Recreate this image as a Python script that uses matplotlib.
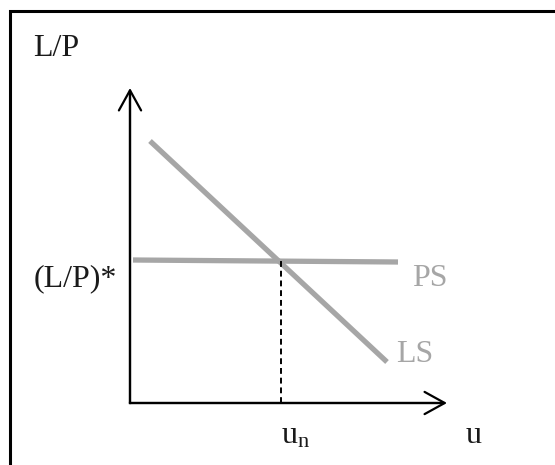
import matplotlib
matplotlib.use("Agg")
import matplotlib.pyplot as plt

plt.rcParams['font.family'] = ['Liberation Serif', 'DejaVu Serif']
plt.rcParams['mathtext.fontset'] = 'custom'
plt.rcParams['mathtext.rm'] = 'Liberation Serif'
plt.rcParams['mathtext.it'] = 'Liberation Serif'

# diagram values (origin at the corner of the two axes)
u_axis_len = 317
lp_axis_len = 315
ps_u = [3, 268]
ps_lp = [143, 141]
ls_u = [20, 257]
ls_lp = [262, 41]
u_n = 151
lp_star = 142

gray = '#a6a6a6'
txt = '#1a1a1a'

fig = plt.figure(figsize=(5.55, 4.65), dpi=100)
ax = fig.add_axes([0, 0, 1, 1])
ax.set_xlim(-130, 425)
ax.set_ylim(-62, 403)
ax.axis('off')

# frame around the figure (left and top edges visible)
ax.plot([-120, -120, 430], [-70, 392, 392], color='black', lw=2.2, solid_joinstyle='miter')

# axes with arrows
arr = dict(arrowstyle='->,head_length=14.5,head_width=8', lw=1.6, color='black',
           shrinkA=0, shrinkB=0, mutation_scale=1)
ax.annotate('', xy=(u_axis_len, 0), xytext=(0, 0), arrowprops=arr)
ax.annotate('', xy=(0, lp_axis_len), xytext=(0, 0), arrowprops=arr)
ax.plot([0, 0], [0, lp_axis_len - 5], color='black', lw=1.6)
ax.plot([0, u_axis_len - 5], [0, 0], color='black', lw=1.6)

# curves
ax.plot(ps_u, ps_lp, color=gray, lw=3.8, solid_capstyle='butt')
ax.plot(ls_u, ls_lp, color=gray, lw=3.8, solid_capstyle='butt')

# dashed line to u_n
ax.plot([u_n, u_n], [0, lp_star], color='black', lw=1.4, linestyle=(0, (3, 2)))

fs = 23
ax.text(-97, 355, 'L/P', fontsize=fs, color=txt, ha='left', va='center')
ax.text(-96, 124, '(L/P)*', fontsize=fs, color=txt, ha='left', va='center')
ax.text(282, 125, 'PS', fontsize=fs, color=gray, ha='left', va='center')
ax.text(266, 48, 'LS', fontsize=fs, color=gray, ha='left', va='center')
ax.text(u_n, -40, r'$\mathrm{u_n}$', fontsize=fs, color=txt, ha='left', va='baseline')
ax.text(336, -40, 'u', fontsize=fs, color=txt, ha='left', va='baseline')

fig.savefig('out.png', dpi=100)
